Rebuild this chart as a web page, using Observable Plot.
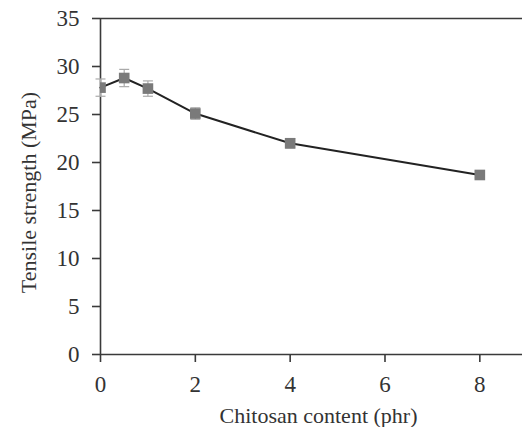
<!DOCTYPE html>
<html>
<head>
<meta charset="utf-8">
<script src="https://cdn.jsdelivr.net/npm/d3@7"></script>
<script src="https://cdn.jsdelivr.net/npm/@observablehq/plot@0.6"></script>
<style>
  html, body { margin: 0; padding: 0; background: #fff; }
  #chart svg { display: block; }
  #chart svg, #chart svg text { font-family: "Liberation Serif", "Times New Roman", serif !important; }
</style>
</head>
<body>
<div id="chart"></div>
<script>
const content = [0, 0.5, 1, 2, 4, 8];
const strength = [27.8, 28.8, 27.7, 25.1, 22.0, 18.7];
const errors = [0.9, 0.9, 0.8, 0.6, 0.5, 0.3];
const xTicks = [0, 2, 4, 6, 8];
const yTicks = [0, 5, 10, 15, 20, 25, 30, 35];
const xLabel = "Chitosan content (phr)";
const yLabel = "Tensile strength (MPa)";

const data = content.map((c, i) => ({x: c, y: strength[i], lo: strength[i] - errors[i], hi: strength[i] + errors[i]}));

const capSymbol = {
  draw(context, size) {
    const w = 5;
    context.moveTo(-w, 0);
    context.lineTo(w, 0);
  }
};

const chart = Plot.plot({
  width: 522,
  height: 427,
  marginTop: 18,
  marginLeft: 100,
  marginRight: 0,
  marginBottom: 73,
  style: {fontSize: "23px", color: "#333", background: "#fff"},
  x: {type: "linear", domain: [0, 8.9]},
  y: {type: "linear", domain: [0, 35]},
  marks: [
    Plot.ruleY([35], {stroke: "#3a3a3a", strokeWidth: 1.6}),
    Plot.axisX({ticks: xTicks, tickSize: 8, tickPadding: 13, label: null, stroke: "#3a3a3a", strokeWidth: 1.6, fill: "#333", fontSize: 23}),
    Plot.axisY({ticks: yTicks, tickSize: 8, tickPadding: 13, label: null, stroke: "#3a3a3a", strokeWidth: 1.6, fill: "#333", fontSize: 23}),
    Plot.ruleY([0], {stroke: "#3a3a3a", strokeWidth: 1.6}),
    Plot.ruleX([0], {stroke: "#3a3a3a", strokeWidth: 1.6}),
    Plot.link(data, {x1: "x", x2: "x", y1: "lo", y2: "hi", stroke: "#aaa", strokeWidth: 1.2}),
    Plot.dot(data, {x: "x", y: "lo", symbol: capSymbol, stroke: "#aaa", strokeWidth: 1.2, fill: "none"}),
    Plot.dot(data, {x: "x", y: "hi", symbol: capSymbol, stroke: "#aaa", strokeWidth: 1.2, fill: "none"}),
    Plot.line(data, {x: "x", y: "y", stroke: "#222", strokeWidth: 2}),
    Plot.dot(data, {x: "x", y: "y", symbol: "square", r: 6, fill: "#7a7a7a", stroke: "none", clip: true}),
    Plot.text([xLabel], {frameAnchor: "bottom", textAnchor: "middle", dx: 7, dy: 68, lineAnchor: "bottom", fill: "#333", fontSize: 22, style: "letter-spacing:1px"}),
    Plot.text([yLabel], {frameAnchor: "left", textAnchor: "middle", rotate: -90, dx: -72, dy: 6, lineAnchor: "middle", fill: "#333", fontSize: 22, style: "letter-spacing:0.3px"})
  ]
});
document.getElementById("chart").appendChild(chart);
</script>
</body>
</html>
